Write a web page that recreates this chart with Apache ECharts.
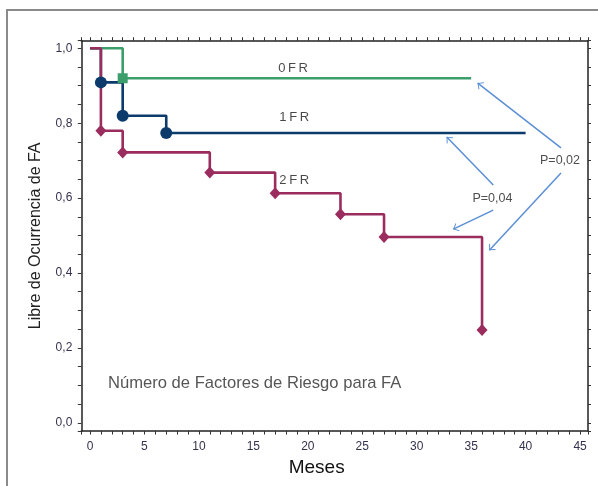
<!DOCTYPE html>
<html>
<head>
<meta charset="utf-8">
<script src="https://cdn.jsdelivr.net/npm/echarts@6/dist/echarts.min.js"></script>
<style>html,body{margin:0;padding:0;background:#fff}#c{width:598px;height:486px}</style>
</head>
<body>
<div id="c"></div>
<script>
// ---- data ----
const fr0X = [0, 3, 35];
const fr0Y = [1.0, 0.92, 0.92];
const fr0Events = [3];

const fr1X = [0, 1, 3, 7, 40];
const fr1Y = [1.0, 0.909, 0.82, 0.774, 0.774];
const fr1Events = [1, 3, 7];

const fr2X = [0, 1, 3, 11, 17, 23, 27, 36];
const fr2Y = [1.0, 0.78, 0.722, 0.668, 0.613, 0.557, 0.496, 0.248];
const fr2Events = [1, 3, 11, 17, 23, 27, 36];

const xTickLabels = [0, 5, 10, 15, 20, 25, 30, 35, 40, 45];
const yTickLabels = [0.0, 0.2, 0.4, 0.6, 0.8, 1.0];
const xRange = [-0.8, 45.73];
const yRange = [-0.022, 1.0203];

const curveLabels = ['0\u2009F\u2009R', '1\u2009F\u2009R', '2\u2009F\u2009R'];
const curveLabelX = [18.65, 18.75, 18.75];
const curveLabelY = [0.947, 0.815, 0.648];

const pLabels = ['P=0,02', 'P=0,04'];
const pLabelX = [43.16, 36.95];
const pLabelY = [0.700, 0.600];

// arrows: [fromX, fromY] -> [toX, toY]
const arrowFrom = [[43.25, 0.734], [43.25, 0.667], [37.03, 0.635], [37.03, 0.568]];
const arrowTo   = [[35.6, 0.907], [36.67, 0.461], [32.76, 0.763], [33.36, 0.517]];

const noteText = 'Número de Factores de Riesgo para FA';
const noteX = 1.65, noteY = 0.106;

// ---- build ----
const FONT = "Arial, 'Liberation Sans', sans-serif";
const C0 = '#3b9e6b', C1 = '#0c3a6b', C2 = '#9a2d5e', CA = '#5b8fd4';
const pairs = (xs, ys) => xs.map((x, i) => [x, ys[i]]);
const evPts = (xs, ys, ev) => xs.map((x, i) => [x, ys[i]]).filter(p => ev.indexOf(p[0]) >= 0 && p[0] !== 0);
const inList = (v, list) => list.some(t => Math.abs(t - v) < 1e-6);

const chevron = 'path://M49.8,0 L50.2,0 L50,0.3 Z M50,50 L100,100 L90,105 L50,64 L10,105 L0,100 Z';

const axCol = '#222', tickCol = '#333';
const lineAx = {show: true, onZero: false, lineStyle: {color: axCol, width: 1.5}};
const tick = {show: true, inside: false, length: 3.5, lineStyle: {color: tickCol, width: 1}};

const chart = echarts.init(document.getElementById('c'), null, {renderer: 'canvas'});
chart.setOption({
  animation: false,
  backgroundColor: '#fff',
  graphic: [{
    type: 'rect', shape: {x: 7, y: 10, width: 700, height: 600},
    style: {fill: 'none', stroke: '#8a8a8a', lineWidth: 2}, silent: true
  }],
  grid: {left: 81.3, right: 10, top: 40.7, bottom: 55},
  xAxis: [
    {
      type: 'value', position: 'bottom',
      min: xRange[0], max: xRange[1], splitNumber: 46,
      name: 'Meses', nameLocation: 'middle', nameGap: 23,
      nameTextStyle: {fontFamily: FONT, fontSize: 19, color: '#111', padding: [0, 36, 0, 0]},
      axisLine: lineAx, axisTick: tick,
      splitLine: {show: false},
      axisLabel: {margin: 10, fontFamily: FONT, fontSize: 12, color: '#33334d', hideOverlap: false,
        showMinLabel: true, showMaxLabel: true,
        formatter: v => inList(v, xTickLabels) ? String(Math.round(v)) : ''}
    },
    {
      type: 'value', position: 'top',
      min: xRange[0], max: xRange[1], splitNumber: 46,
      axisLine: lineAx, axisTick: tick,
      splitLine: {show: false},
      axisLabel: {show: false}
    }
  ],
  yAxis: [
    {
      type: 'value', position: 'left',
      min: yRange[0], max: yRange[1], splitNumber: 21,
      name: 'Libre de Ocurrencia de FA', nameLocation: 'middle', nameGap: 38, nameRotate: 90,
      nameTextStyle: {fontFamily: FONT, fontSize: 16, color: '#222'},
      axisLine: lineAx, axisTick: tick,
      splitLine: {show: false},
      axisLabel: {margin: 9, fontFamily: FONT, fontSize: 12, color: '#33334d', hideOverlap: false,
        showMinLabel: true, showMaxLabel: true,
        formatter: v => inList(v, yTickLabels) ? v.toFixed(1).replace('.', ',') : ''}
    },
    {
      type: 'value', position: 'right',
      min: yRange[0], max: yRange[1], splitNumber: 21,
      axisLine: lineAx, axisTick: {show: true, inside: false, length: 3, lineStyle: {color: tickCol, width: 1}},
      splitLine: {show: false},
      axisLabel: {show: false}
    }
  ],
  series: [
    {type: 'line', name: '1FR', step: 'end', showSymbol: false, symbol: 'none',
      data: pairs(fr1X, fr1Y), lineStyle: {color: C1, width: 2.6}, z: 3},
    {type: 'line', name: '0FR', step: 'end', showSymbol: false, symbol: 'none',
      data: pairs(fr0X, fr0Y), lineStyle: {color: C0, width: 2.6}, z: 4},
    {type: 'line', name: '2FR', step: 'end', showSymbol: false, symbol: 'none',
      data: pairs(fr2X, fr2Y), lineStyle: {color: C2, width: 2.6}, z: 5},
    {type: 'scatter', symbol: 'circle', symbolSize: 12,
      data: evPts(fr1X, fr1Y, fr1Events), itemStyle: {color: C1, opacity: 1}, z: 6},
    {type: 'scatter', symbol: 'rect', symbolSize: 10,
      data: evPts(fr0X, fr0Y, fr0Events), itemStyle: {color: C0, opacity: 1}, z: 6},
    {type: 'scatter', symbol: 'diamond', symbolSize: [11, 12],
      data: evPts(fr2X, fr2Y, fr2Events), itemStyle: {color: C2, opacity: 1}, z: 7},
    {type: 'scatter', symbolSize: 0, silent: true, z: 8,
      data: curveLabels.map((t, i) => ({name: t, value: [curveLabelX[i], curveLabelY[i]]})),
      label: {show: true, position: 'inside', formatter: p => p.name, fontFamily: FONT, fontSize: 13, color: '#1a1a1a'}},
    {type: 'scatter', symbolSize: 0, silent: true, z: 8,
      data: pLabels.map((t, i) => ({name: t, value: [pLabelX[i], pLabelY[i]]})),
      label: {show: true, position: 'inside', formatter: p => p.name, fontFamily: FONT, fontSize: 12.5, color: '#222'},
      markLine: {
        silent: true, animation: false,
        symbol: ['none', chevron], symbolSize: [9, 10],
        label: {show: false},
        lineStyle: {color: CA, width: 1.5, type: 'solid'},
        emphasis: {disabled: true},
        data: arrowFrom.map((f, i) => [{coord: f}, {coord: arrowTo[i]}])
      }},
    {type: 'scatter', symbolSize: 0, silent: true, z: 8,
      data: [{name: noteText, value: [noteX, noteY]}],
      label: {show: true, position: 'right', distance: 0, formatter: p => p.name, fontFamily: FONT, fontSize: 16.6, color: '#2b2b2b'}}
  ]
});
</script>
</body>
</html>
